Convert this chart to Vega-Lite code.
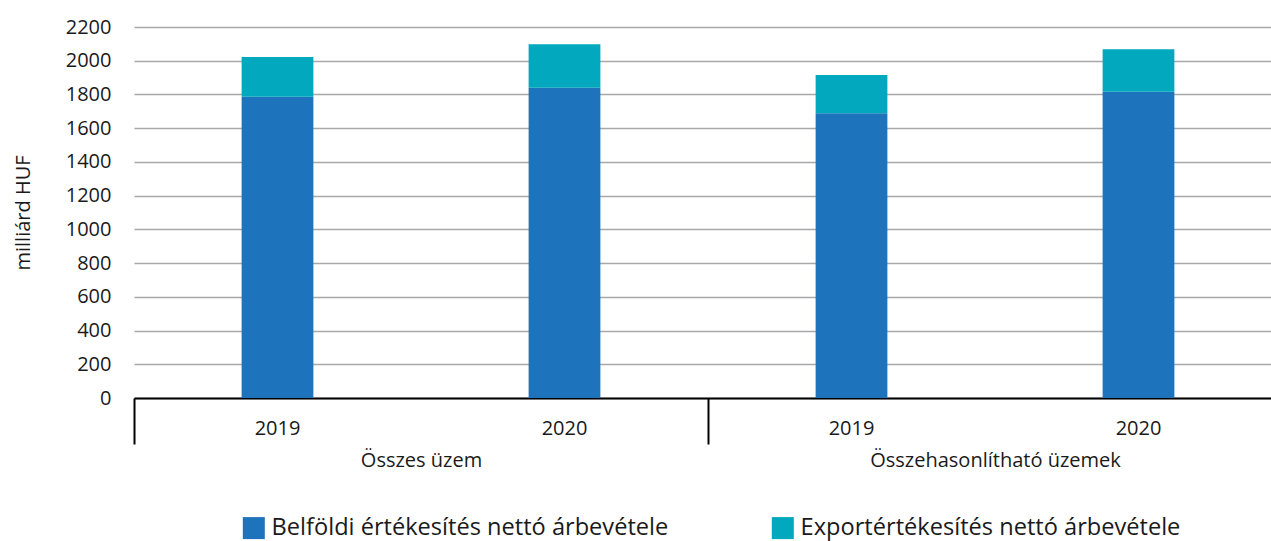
{
  "$schema": "https://vega.github.io/schema/vega-lite/v6.json",
  "autosize": {"type": "pad"},
  "padding": {"left": 13, "top": 17, "right": 0, "bottom": 5},
  "width": 1148,
  "height": 371,
  "config": {
    "font": "Open Sans",
    "view": {"stroke": null},
    "axis": {"labelColor": "#1a1a1a", "titleColor": "#1a1a1a", "labelFontWeight": "normal"}
  },
  "data": {
    "values": [
      {"group": "Összes üzem", "bar": "Összes üzem 2019", "series": "Belföldi értékesítés nettó árbevétele", "value": 1786},
      {"group": "Összes üzem", "bar": "Összes üzem 2019", "series": "Exportértékesítés nettó árbevétele", "value": 236},
      {"group": "Összes üzem", "bar": "Összes üzem 2020", "series": "Belföldi értékesítés nettó árbevétele", "value": 1840},
      {"group": "Összes üzem", "bar": "Összes üzem 2020", "series": "Exportértékesítés nettó árbevétele", "value": 257},
      {"group": "Összehasonlítható üzemek", "bar": "Összehasonlítható üzemek 2019", "series": "Belföldi értékesítés nettó árbevétele", "value": 1688},
      {"group": "Összehasonlítható üzemek", "bar": "Összehasonlítható üzemek 2019", "series": "Exportértékesítés nettó árbevétele", "value": 227},
      {"group": "Összehasonlítható üzemek", "bar": "Összehasonlítható üzemek 2020", "series": "Belföldi értékesítés nettó árbevétele", "value": 1816},
      {"group": "Összehasonlítható üzemek", "bar": "Összehasonlítható üzemek 2020", "series": "Exportértékesítés nettó árbevétele", "value": 252}
    ]
  },
  "layer": [
    {
      "mark": {"type": "bar"},
      "encoding": {
        "x": {
          "field": "bar",
          "type": "nominal",
          "sort": ["Összes üzem 2019", "Összes üzem 2020", "Összehasonlítható üzemek 2019", "Összehasonlítható üzemek 2020"],
          "scale": {"paddingInner": 0.75, "paddingOuter": 0.375},
          "axis": {
            "orient": "bottom",
            "title": null,
            "labelExpr": "slice(datum.label, -4)",
            "labelAngle": 0,
            "labelFontSize": 20,
            "labelPadding": 20,
            "ticks": false,
            "tickSize": 0,
            "domain": true,
            "domainColor": "#000000",
            "domainWidth": 2,
            "grid": false
          }
        },
        "y": {
          "field": "value",
          "type": "quantitative",
          "stack": "zero",
          "scale": {"domain": [0, 2200], "nice": false},
          "axis": {
            "title": "milliárd HUF",
            "titleFontSize": 20,
            "titleFontWeight": "normal",
            "titlePadding": 32,
            "values": [0, 200, 400, 600, 800, 1000, 1200, 1400, 1600, 1800, 2000, 2200],
            "format": "d",
            "labelFontSize": 20,
            "labelPadding": 23,
            "ticks": false,
            "tickSize": 0,
            "domain": false,
            "grid": true,
            "gridColor": "#a8a8a8",
            "gridWidth": 1.5
          }
        },
        "color": {
          "field": "series",
          "type": "nominal",
          "scale": {
            "domain": ["Belföldi értékesítés nettó árbevétele", "Exportértékesítés nettó árbevétele"],
            "range": ["#1d73bc", "#02a8bd"]
          },
          "legend": {
            "orient": "none",
            "legendX": 108,
            "legendY": 489,
            "direction": "horizontal",
            "title": null,
            "symbolType": "square",
            "symbolSize": 484,
            "symbolStrokeWidth": 0,
            "symbolOpacity": 1,
            "labelFontSize": 23.6,
            "labelColor": "#1a1a1a",
            "labelLimit": 0,
            "labelOffset": 6,
            "columnPadding": 102
          }
        },
        "order": {"field": "series", "sort": "ascending"}
      }
    },
    {
      "mark": {"type": "rule", "opacity": 0},
      "encoding": {
        "x": {
          "field": "group",
          "type": "nominal",
          "sort": ["Összes üzem", "Összehasonlítható üzemek"],
          "scale": {"paddingInner": 0, "paddingOuter": 0},
          "axis": {
            "orient": "bottom",
            "title": null,
            "labelAngle": 0,
            "labelFontSize": 20,
            "labelPadding": 6,
            "labelLimit": 0,
            "tickBand": "extent",
            "ticks": true,
            "tickSize": 46,
            "tickWidth": 2,
            "tickColor": "#000000",
            "domain": false,
            "grid": false
          }
        }
      }
    }
  ],
  "resolve": {"scale": {"x": "independent"}, "axis": {"x": "independent"}}
}
